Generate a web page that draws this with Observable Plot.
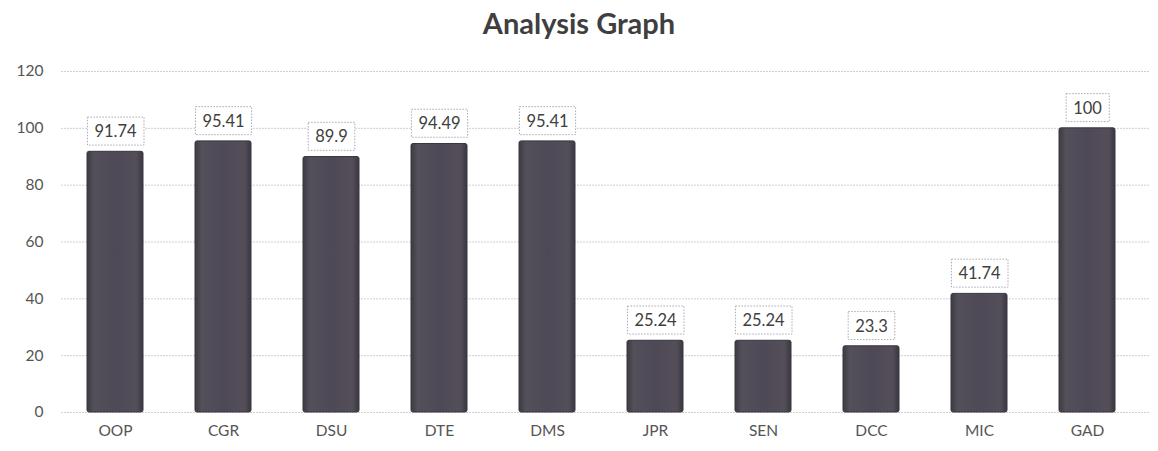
<!DOCTYPE html>
<html><head><meta charset="utf-8">
<script src="https://cdn.jsdelivr.net/npm/d3@7"></script>
<script src="https://cdn.jsdelivr.net/npm/@observablehq/plot@0.6"></script>
<style>
body{margin:0;background:#fff;font-family:Lato,"Open Sans",sans-serif;}
#title{height:45px;line-height:46px;text-align:center;font-size:29px;font-weight:bold;color:#3f3f3f;}
</style></head>
<body>
<div id="title">Analysis Graph</div>
<div id="chart"></div>
<script>
const subjects = ["OOP","CGR","DSU","DTE","DMS","JPR","SEN","DCC","MIC","GAD"];
const scores = [91.74,95.41,89.9,94.49,95.41,25.24,25.24,23.3,41.74,100];
const yTicks = [0,20,40,60,80,100,120];
const data = subjects.map((s,i)=>({subject:s, score:scores[i]}));

const chart = Plot.plot({
  width:1158, height:406,
  marginLeft:61, marginRight:16, marginTop:26, marginBottom:39,
  style:{fontFamily:"Lato, 'Open Sans', sans-serif", fontSize:"15.5px", color:"#555"},
  x:{domain:subjects, paddingInner:0.48, paddingOuter:0.23, label:null, tickSize:0, tickPadding:12},
  y:{domain:[0,120], ticks:yTicks, label:null, tickSize:0, tickPadding:18},
  marks:[
    Plot.ruleY(yTicks,{stroke:"#cfcfcf", strokeDasharray:"2,1", insetRight:-8}),
    Plot.barY(data,{x:"subject", y:"score", fill:"url(#barGrad)", stroke:"#3a3640", strokeWidth:1, rx:2}),
    Plot.text(data,{x:"subject", y:"score", text:d=>String(d.score), dy:-20, fontSize:16.5, fill:"#404040"})
  ]
});
document.getElementById("chart").appendChild(chart);
const svg = d3.select(chart);
const defs = svg.insert("defs",":first-child");
const g = defs.append("linearGradient").attr("id","barGrad").attr("x1","0").attr("x2","1").attr("y1","0").attr("y2","0");
g.append("stop").attr("offset","0").attr("stop-color","#3d3a44");
g.append("stop").attr("offset","0.12").attr("stop-color","#54505a");
g.append("stop").attr("offset","0.5").attr("stop-color","#4e4956");
g.append("stop").attr("offset","0.88").attr("stop-color","#534e58");
g.append("stop").attr("offset","1").attr("stop-color","#3b3842");
const labelSet = new Set(scores.map(String));
const nodes = Array.from(chart.querySelectorAll("text"));
nodes.forEach(t => {
  if (!labelSet.has(t.textContent)) return;
  const b = t.getBBox();
  const m = t.getCTM();
  const left = b.x + (m ? m.e : 0);
  if (left < 70) return;
  const r = document.createElementNS("http://www.w3.org/2000/svg","rect");
  r.setAttribute("x", b.x-7); r.setAttribute("y", b.y-4);
  r.setAttribute("width", b.width+14); r.setAttribute("height", b.height+8);
  r.setAttribute("fill","#fff"); r.setAttribute("stroke","#a9a9b5");
  r.setAttribute("stroke-dasharray","1.5,1.5"); r.setAttribute("stroke-width","1");
  if (t.getAttribute("transform")) r.setAttribute("transform", t.getAttribute("transform"));
  t.parentNode.insertBefore(r, t);
});
</script>
</body></html>
